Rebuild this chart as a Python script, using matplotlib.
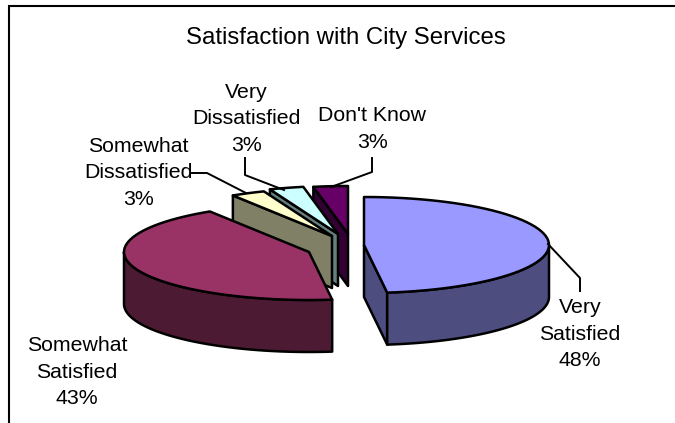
import matplotlib
matplotlib.use('Agg')
import matplotlib.pyplot as plt
from matplotlib.patches import Polygon
import numpy as np

plt.rcParams['font.family'] = ['Liberation Sans', 'DejaVu Sans']

title = 'Satisfaction with City Services'
categories = ['Very\nSatisfied', 'Somewhat\nSatisfied', 'Somewhat\nDissatisfied',
              'Very\nDissatisfied', "Don't Know"]
values = [48, 43, 3, 3, 3]
top_colors = ['#9999FF', '#993366', '#FFFFCC', '#CCFFFF', '#660066']
side_colors = ['#4D4D80', '#4D1A33', '#808066', '#668080', '#330033']

# exploded centre of each slice and where its label goes, in pixels
centers = [(364, 245), (309, 252), (332, 236), (338, 234), (348, 234)]
label_pos = [(580, 334), (77, 372), (138, 173), (246, 119), (372, 129)]
leaders = [[(548, 244), (580, 278), (580, 291)],
           [],
           [(192, 173), (207, 173), (246, 193)],
           [(245, 158), (245, 175), (284, 190)],
           [(372, 158), (372, 172), (331, 187)]]

RX, RY, DEPTH = 185, 48, 52
OUT = 'black'
LW = 1.8


def point(c, angle):
    # angle is clockwise from 12 o'clock
    return c[0] + RX * np.sin(angle), c[1] - RY * np.cos(angle)


def arc(c, a0, a1, n=60):
    t = np.linspace(a0, a1, n)
    return np.column_stack(point(c, t))


def add_poly(ax, pts, color, z):
    ax.add_patch(Polygon(pts, closed=True, facecolor=color, edgecolor=OUT,
                         linewidth=LW, joinstyle='round', zorder=z))


def draw_wall(ax, c, a, color, z):
    p = point(c, a)
    add_poly(ax, [c, p, (p[0], p[1] + DEPTH), (c[0], c[1] + DEPTH)], color, z)


def draw_slice(ax, c, a0, a1, top, side, z):
    # only the cut faces turned towards the viewer
    if np.sin(a0) < -1e-9:
        draw_wall(ax, c, a0, side, z)
    if np.sin(a1) > 1e-9:
        draw_wall(ax, c, a1, side, z)
    # outer rim, only the part facing the viewer
    r0, r1 = max(a0, np.pi / 2), min(a1, 3 * np.pi / 2)
    if r1 > r0:
        rim = arc(c, r0, r1)
        add_poly(ax, np.vstack([rim, rim[::-1] + [0, DEPTH]]), side, z)
    add_poly(ax, np.vstack([[c], arc(c, a0, a1)]), top, z + 0.5)


fig = plt.figure(figsize=(6.75, 4.23), dpi=100)
ax = fig.add_axes([0, 0, 1, 1])
ax.set_xlim(0, 675)
ax.set_ylim(423, 0)
ax.axis('off')

# chart frame, cut off on the right and at the bottom
ax.plot([9, 9, 675], [423, 6, 6], color='black', lw=1.5, solid_joinstyle='miter', zorder=1)

ax.text(346, 38, title, ha='center', va='center', fontsize=17.3, color='black')

edges = np.cumsum([0] + values) / sum(values) * 2 * np.pi
# back slices first so the big ones sit in front of them
order = [4, 3, 2, 0, 1]
for z, i in enumerate(order):
    draw_slice(ax, centers[i], edges[i], edges[i + 1], top_colors[i], side_colors[i], 2 + z)

for i, name in enumerate(categories):
    ax.text(label_pos[i][0], label_pos[i][1], f'{name}\n{values[i]}%', ha='center', va='center',
            fontsize=15.3, linespacing=1.52, color='black', zorder=10)
    if leaders[i]:
        xs, ys = zip(*leaders[i])
        ax.plot(xs, ys, color='black', lw=1.4, zorder=9)

fig.savefig('out.png', dpi=100, facecolor='white')
